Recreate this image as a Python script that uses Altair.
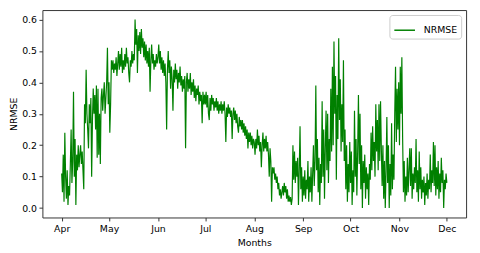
import altair as alt
import pandas as pd

# NRMSE values, two readings per day (00:00 and 12:00), Apr 1 -> Dec 1
apr = [0.11, 0.05, 0.17, 0.02, 0.24, 0.10, 0.03, 0.12, 0.01, 0.07,
       0.04, 0.14, 0.25, 0.08, 0.15, 0.37, 0.10, 0.22, 0.01, 0.17,
       0.12, 0.20, 0.13, 0.17, 0.20, 0.14, 0.18, 0.12, 0.06, 0.33,
       0.27, 0.44, 0.30, 0.25, 0.19, 0.33, 0.27, 0.35, 0.10, 0.28,
       0.38, 0.30, 0.36, 0.25, 0.39, 0.16, 0.38, 0.17, 0.30, 0.14,
       0.35, 0.38, 0.31, 0.36, 0.40, 0.30, 0.35, 0.40, 0.51, 0.33]
may = [0.40, 0.24, 0.33, 0.47, 0.44, 0.47, 0.43, 0.46, 0.44, 0.48,
       0.42, 0.46, 0.50, 0.44, 0.49, 0.45, 0.51, 0.43, 0.47, 0.44,
       0.49, 0.45, 0.51, 0.46, 0.48, 0.43, 0.40, 0.47, 0.45, 0.50,
       0.46, 0.49, 0.47, 0.60, 0.52, 0.57, 0.43, 0.55, 0.50, 0.56,
       0.49, 0.57, 0.51, 0.54, 0.48, 0.53, 0.47, 0.52, 0.46, 0.50,
       0.45, 0.51, 0.37, 0.47, 0.52, 0.46, 0.49, 0.44, 0.47, 0.45,
       0.49, 0.46]
jun = [0.48, 0.52, 0.46, 0.50, 0.44, 0.48, 0.43, 0.47, 0.42, 0.46,
       0.40, 0.25, 0.44, 0.50, 0.43, 0.47, 0.38, 0.45, 0.41, 0.31,
       0.44, 0.40, 0.46, 0.41, 0.44, 0.38, 0.43, 0.40, 0.45, 0.39,
       0.42, 0.37, 0.41, 0.38, 0.42, 0.19, 0.40, 0.43, 0.37, 0.41,
       0.38, 0.43, 0.36, 0.40, 0.37, 0.41, 0.35, 0.39, 0.34, 0.38,
       0.36, 0.39, 0.33, 0.37, 0.34, 0.36, 0.27, 0.37, 0.33, 0.36]
jul = [0.33, 0.37, 0.32, 0.36, 0.30, 0.28, 0.35, 0.31, 0.36, 0.33,
       0.35, 0.31, 0.34, 0.32, 0.35, 0.31, 0.34, 0.30, 0.33, 0.31,
       0.34, 0.30, 0.33, 0.31, 0.34, 0.30, 0.21, 0.32, 0.29, 0.33,
       0.30, 0.32, 0.29, 0.31, 0.22, 0.30, 0.32, 0.28, 0.31, 0.27,
       0.30, 0.26, 0.24, 0.29, 0.26, 0.28, 0.25, 0.28, 0.24, 0.27,
       0.23, 0.26, 0.22, 0.25, 0.19, 0.24, 0.21, 0.24, 0.20, 0.23,
       0.19, 0.22]
aug = [0.21, 0.17, 0.22, 0.19, 0.25, 0.20, 0.23, 0.18, 0.21, 0.13,
       0.20, 0.24, 0.18, 0.22, 0.19, 0.23, 0.18, 0.21, 0.17, 0.10,
       0.19, 0.15, 0.02, 0.13, 0.11, 0.13, 0.09, 0.11, 0.08, 0.10,
       0.06, 0.08, 0.04, 0.06, 0.03, 0.05, 0.07, 0.04, 0.08, 0.05,
       0.07, 0.03, 0.06, 0.02, 0.04, 0.02, 0.035, 0.01, 0.03, 0.20,
       0.09, 0.18, 0.08, 0.15, 0.10, 0.16, 0.01, 0.12, 0.26, 0.06,
       0.13, 0.02]
sep = [0.10, 0.04, 0.12, 0.03, 0.09, 0.06, 0.15, 0.02, 0.10, 0.05,
       0.13, 0.02, 0.11, 0.20, 0.07, 0.15, 0.39, 0.12, 0.22, 0.05,
       0.16, 0.01, 0.14, 0.08, 0.34, 0.10, 0.25, 0.03, 0.19, 0.31,
       0.12, 0.30, 0.08, 0.22, 0.15, 0.38, 0.18, 0.45, 0.20, 0.53,
       0.30, 0.42, 0.09, 0.36, 0.22, 0.54, 0.28, 0.41, 0.18, 0.33,
       0.21, 0.47, 0.15, 0.25, 0.06, 0.20, 0.02, 0.14, 0.05, 0.21]
oct = [0.08, 0.18, 0.01, 0.12, 0.05, 0.31, 0.10, 0.22, 0.04, 0.18,
       0.36, 0.14, 0.30, 0.06, 0.20, 0.00, 0.15, 0.08, 0.17, 0.03,
       0.13, 0.06, 0.11, 0.01, 0.14, 0.09, 0.24, 0.12, 0.26, 0.15,
       0.21, 0.10, 0.33, 0.18, 0.28, 0.12, 0.33, 0.15, 0.34, 0.19,
       0.07, 0.20, 0.03, 0.15, 0.00, 0.12, 0.29, 0.08, 0.20, 0.00,
       0.14, 0.04, 0.27, 0.06, 0.17, 0.09, 0.30, 0.45, 0.21, 0.38,
       0.25, 0.40]
nov = [0.20, 0.45, 0.30, 0.48, 0.22, 0.05, 0.15, 0.02, 0.10, 0.04,
       0.16, 0.05, 0.12, 0.19, 0.07, 0.19, 0.03, 0.11, 0.06, 0.13,
       0.08, 0.22, 0.05, 0.12, 0.02, 0.18, 0.06, 0.13, 0.03, 0.09,
       0.05, 0.10, 0.01, 0.08, 0.04, 0.11, 0.03, 0.09, 0.06, 0.17,
       0.05, 0.12, 0.08, 0.21, 0.07, 0.20, 0.04, 0.13, 0.06, 0.15,
       0.03, 0.11, 0.05, 0.16, 0.08, 0.12, 0.00, 0.09, 0.06, 0.11]
dec = [0.08]

month_ticks = [4, 5, 6, 7, 8, 9, 10, 11, 12]

values = apr + may + jun + jul + aug + sep + oct + nov + dec
times = pd.date_range("2021-04-01", periods=len(values), freq="12h")
df = pd.DataFrame({
    "t": times.strftime("%Y-%m-%dT%H:%M:%S"),
    "v": values,
    "s": ["NRMSE"] * len(values),
})

chart = alt.Chart(df).mark_line(strokeWidth=1.2, clip=True).encode(
    x=alt.X(
        "t:T",
        title="Months",
        scale=alt.Scale(domain=[
            alt.DateTime(year=2021, month=3, date=19, hours=19, minutes=12),
            alt.DateTime(year=2021, month=12, date=13, hours=4, minutes=48),
        ]),
        axis=alt.Axis(
            format="%b",
            values=[alt.DateTime(year=2021, month=m, date=1) for m in month_ticks],
            grid=False, domain=False, tickSize=3.5, labelPadding=3,
            titlePadding=4, labelFlush=False,
        ),
    ),
    y=alt.Y(
        "v:Q",
        title="NRMSE",
        scale=alt.Scale(domain=[-0.03, 0.63], nice=False, zero=False),
        axis=alt.Axis(
            values=[0.0, 0.1, 0.2, 0.3, 0.4, 0.5, 0.6], format=".1f",
            grid=False, domain=False, tickSize=3.5, labelPadding=2.5,
            titlePadding=3,
        ),
    ),
    color=alt.Color(
        "s:N",
        scale=alt.Scale(domain=["NRMSE"], range=["#008000"]),
        legend=alt.Legend(
            title=None, orient="top-right", offset=5, padding=4,
            strokeColor="#cccccc", fillColor="white", cornerRadius=3,
            symbolType="stroke", symbolStrokeWidth=1.5, symbolSize=441,
            labelFontSize=9.5, labelOffset=8, labelColor="#000000",
        ),
    ),
).properties(
    width=431,
    height=211,
    autosize=alt.AutoSizeParams(type="none"),
    padding={"left": 35, "top": 0, "right": 6, "bottom": 33},
).configure(
    font="DejaVu Sans",
).configure_view(
    stroke="#333333", strokeWidth=1,
).configure_axis(
    labelFontSize=9.5, titleFontSize=9.5, titleFontWeight="normal",
    labelColor="#000000", titleColor="#000000", tickColor="#333333",
    labelFont="DejaVu Sans", titleFont="DejaVu Sans",
)

chart.save("out.html", embed_options={"renderer": "svg", "actions": False})
